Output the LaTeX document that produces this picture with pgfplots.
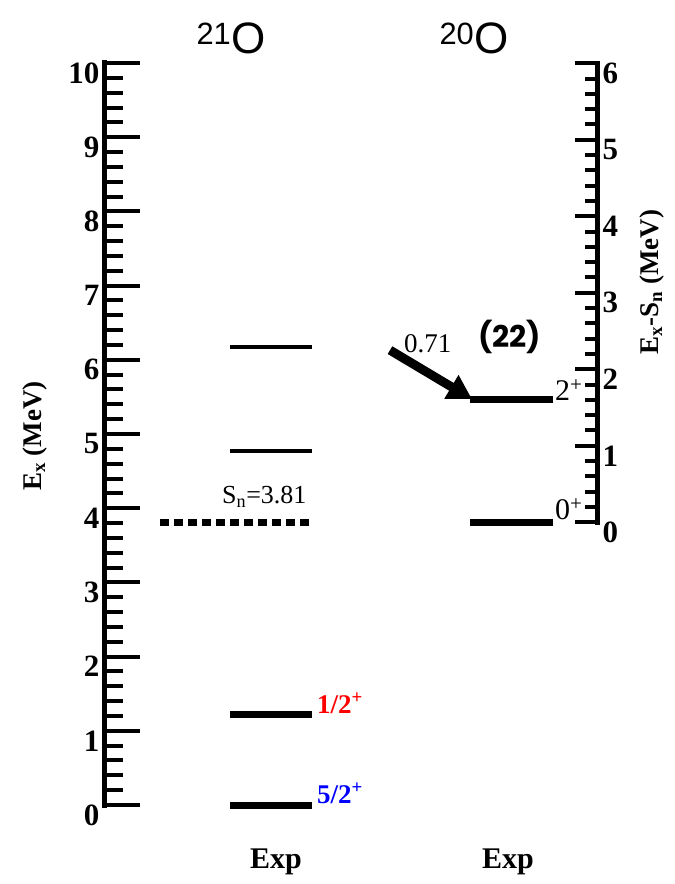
\documentclass[border=0pt]{standalone}
\usepackage{pgfplots}
\pgfplotsset{compat=1.18}
\usepackage{fontspec}
\setmainfont{Liberation Serif}
\newfontfamily\arial{Liberation Sans}
\newfontfamily\pop{Poppins}
\usetikzlibrary{arrows.meta}
\newcommand\fs[1]{\fontsize{#1}{#1}\selectfont}
\begin{document}
\begin{tikzpicture}[x=1pt,y=1pt]
\useasboundingbox (-105,-79) rectangle (570,805);
\begin{axis}[at={(0,0)}, anchor=south west, scale only axis,
  width=492pt, height=742pt,
  xmin=105, xmax=597, ymin=0, ymax=10, clip=false,
  axis x line=none, axis y line*=left,
  axis line style={line width=5pt, -, line cap=rect},
  ytick={0,...,10}, minor y tick num=4,
  tick align=inside, major tick length=35pt, minor tick length=18pt,
  major tick style={line width=4pt, black},
  minor tick style={line width=4pt, black},
  yticklabel style={font=\bfseries\fs{31}, yshift=-10pt, xshift=-2pt},
  /pgf/number format/assume math mode=true,
]
% 21O levels
\addplot[line width=7pt] coordinates {(230,0) (312,0)};
\addplot[line width=7pt] coordinates {(230,1.22) (312,1.22)};
\addplot[line width=4.5pt] coordinates {(230,4.77) (312,4.77)};
\addplot[line width=4.5pt] coordinates {(230,6.17) (312,6.17)};
% neutron separation threshold
\addplot[line width=7pt, dash pattern=on 9pt off 5pt] coordinates {(160,3.81) (313,3.81)};
% 20O levels
\addplot[line width=7pt] coordinates {(470,3.81) (553,3.81)};
\addplot[line width=7pt] coordinates {(470,5.47) (553,5.47)};
% transition arrow
\addplot[line width=9pt, -{Triangle[length=24pt,width=26pt]}] coordinates {(390,6.13) (472,5.47)};
\coordinate (rb) at (axis cs:597,3.81);
\end{axis}
\begin{axis}[at={(rb)}, anchor=south east, scale only axis,
  width=492pt, height=459pt,
  xmin=105, xmax=597, ymin=0, ymax=6, clip=false,
  axis x line=none, axis y line*=right,
  axis line style={line width=5pt, -, line cap=rect},
  ytick={0,...,6}, minor y tick num=4,
  tick align=inside, major tick length=22pt, minor tick length=12pt,
  major tick style={line width=4pt, black},
  minor tick style={line width=4pt, black},
  yticklabel style={font=\bfseries\fs{31}, yshift=-10pt, xshift=2pt},
  /pgf/number format/assume math mode=true,
]
\addplot[draw=none] coordinates {(300,1)};
\end{axis}
% titles
\node[font=\arial\fs{44}] at (126,767) {\textsuperscript{21}O};
\node[font=\arial\fs{44}] at (369,767) {\textsuperscript{20}O};
% axis labels
\node[font=\bfseries\fs{27}, rotate=90] at (-70,369) {E\textsubscript{x} (MeV)};
\node[font=\bfseries\fs{27}, rotate=90] at (547,523) {E\textsubscript{x}-S\textsubscript{n} (MeV)};
\node[font=\bfseries\fs{30}] at (171,-57) {Exp};
\node[font=\bfseries\fs{30}] at (403,-57) {Exp};
% level labels
\node[font=\fs{26}, anchor=base west, inner sep=0pt] at (117,301) {S\textsubscript{n}=3.81};
\node[font=\fs{27}, anchor=base west, inner sep=0pt] at (299,452) {0.71};
\node[font=\pop\bfseries\fs{30}, anchor=base west, inner sep=0pt] at (373,457) {(22)};
\node[font=\fs{30}, anchor=base west, inner sep=0pt] at (450,404) {2\textsuperscript{+}};
\node[font=\fs{30}, anchor=base west, inner sep=0pt] at (450,285) {0\textsuperscript{+}};
\node[font=\bfseries\fs{27}, text=red, anchor=base west, inner sep=0pt] at (212,92) {1/2\textsuperscript{+}};
\node[font=\bfseries\fs{27}, text=blue, anchor=base west, inner sep=0pt] at (212,2) {5/2\textsuperscript{+}};
\end{tikzpicture}
\end{document}
